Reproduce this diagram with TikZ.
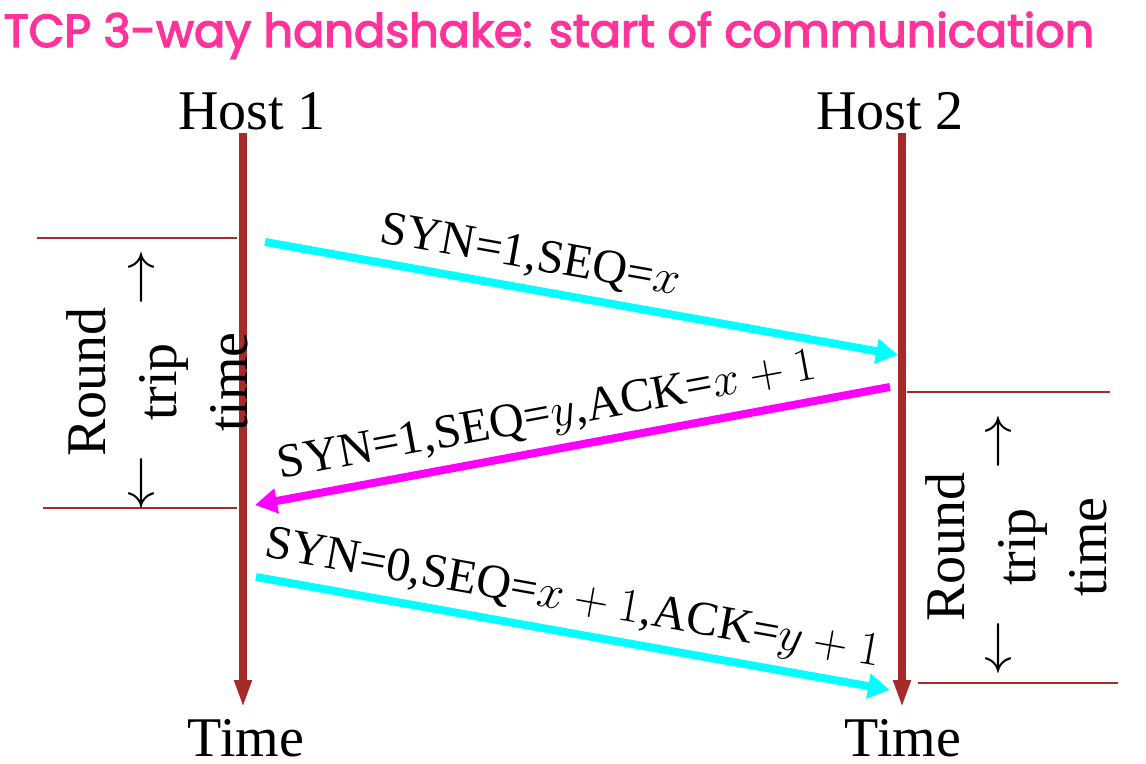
\RequirePackage{fix-cm}
\documentclass[tikz,border=0pt]{standalone}
\usepackage{fontspec}
\setmainfont{Liberation Serif}
\newfontfamily\titlefont{Poppins}[FakeBold=3]
\usetikzlibrary{arrows.meta}
\definecolor{titlepink}{RGB}{255,51,153}
\definecolor{hostbrown}{RGB}{165,42,42}
\definecolor{msgcyan}{RGB}{0,255,255}
\definecolor{msgmagenta}{RGB}{255,0,255}

\begin{document}
\begin{tikzpicture}[x=0.5pt, y=-0.5pt,
  timeline/.style={line width=4pt, hostbrown, -{Triangle[length=14pt,width=8pt]}},
  message/.style={line width=4pt, -{Triangle[length=11pt,width=12pt]}},
  msglabel/.style={sloped, above, inner sep=4pt, font=\fontsize{24}{29}\selectfont},
  hostlabel/.style={anchor=base, inner sep=0pt, font=\fontsize{28}{34}\selectfont},
  rttline/.style={hostbrown, line width=0.6pt},
  rtt/.style={rotate=90, align=center, font=\fontsize{28}{35.5}\selectfont},
  rttarrow/.style={font=\fontsize{28}{34}\selectfont}]
  \useasboundingbox (0,0) rectangle (1146,764);
  \node[anchor=base, inner sep=0pt, titlepink, font=\titlefont\fontsize{23.1}{28}\selectfont] (title) at (549,47)
    {TCP 3-way handshake: start of communication};

  \node[hostlabel] (host1) at (252,130) {Host 1};
  \node[hostlabel] (host2) at (890,130) {Host 2};
  \node[hostlabel] (time1) at (246,756) {Time};
  \node[hostlabel] (time2) at (903,756) {Time};

  \coordinate (top1) at (243,133);
  \coordinate (bot1) at (243,708);
  \coordinate (top2) at (902,133);
  \coordinate (bot2) at (902,708);
  \draw[timeline] (top1) -- (bot1);
  \draw[timeline] (top2) -- (bot2);

  \coordinate (syn1) at (265,242);
  \coordinate (syn2) at (898,355);
  \coordinate (ack2) at (890,387);
  \coordinate (ack1) at (255,505);
  \coordinate (fin1) at (256,577);
  \coordinate (fin2) at (890,690);
  \draw[message, msgcyan] (syn1) -- node[msglabel, pos=0.41, black] {SYN=1,SEQ=$x$} (syn2);
  \draw[message, msgmagenta] (ack2) -- node[msglabel, pos=0.53, black] {SYN=1,SEQ=$y$,ACK=$x+1$} (ack1);
  \draw[message, msgcyan] (fin1) -- node[msglabel, pos=0.49, black] {SYN=0,SEQ=$x+1$,ACK=$y+1$} (fin2);

  \draw[rttline] (37,238) -- (237,238);
  \draw[rttline] (43,508) -- (237,508);
  \draw[rttline] (907,392) -- (1110,392);
  \draw[rttline] (918,683) -- (1118,683);

  \node[rtt] (rtt1) at (157,382) {Round\\trip\\time};
  \node[rtt] (rtt2) at (1016,547) {Round\\trip\\time};
  \node[rttarrow] (up1) at (141,278) {$\uparrow$};
  \node[rttarrow] (down1) at (141,483) {$\downarrow$};
  \node[rttarrow] (up2) at (998,442) {$\uparrow$};
  \node[rttarrow] (down2) at (998,648) {$\downarrow$};
\end{tikzpicture}
\end{document}
